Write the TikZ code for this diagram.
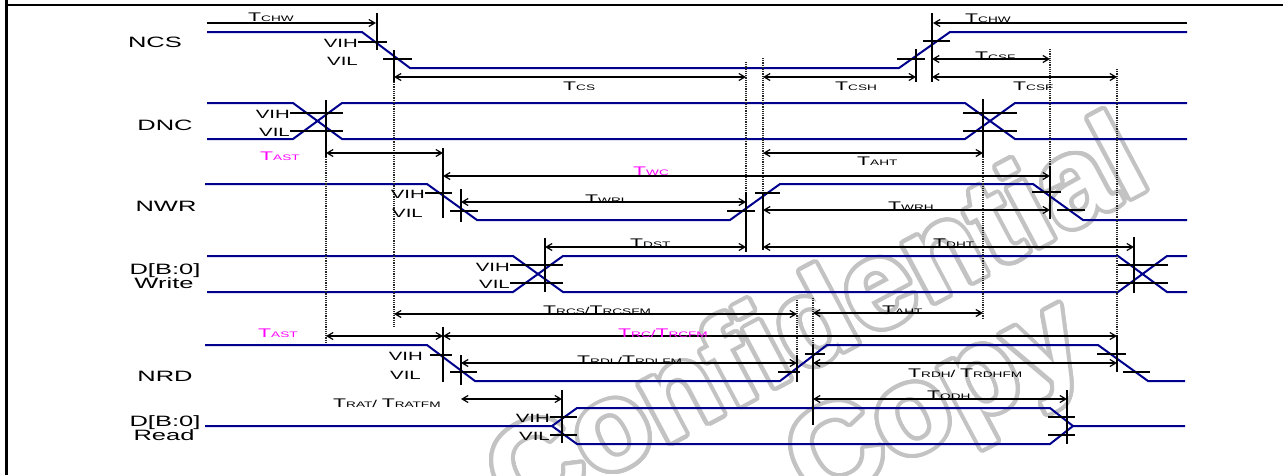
\documentclass[tikz,border=0pt]{standalone}
\usepackage{fontspec}
\usepackage{contour}
\usetikzlibrary{arrows.meta}
\newfontfamily\lblfont[FakeStretch=1.7]{Liberation Sans}
\newfontfamily\wmfont{Liberation Sans}
\definecolor{SigBlue}{RGB}{0,0,140}
\definecolor{Pink}{RGB}{255,0,255}
\definecolor{WmGray}{RGB}{195,195,195}
\contourlength{4pt}
\contournumber{32}
\newcommand{\tsub}[1]{{\fontsize{12.5}{12.5}\selectfont T}{\fontsize{8}{8}\selectfont #1}}
\tikzset{
  >={Straight Barb[length=6pt,width=7pt]},
  sig/.style={SigBlue,line width=2pt},
  vmark/.style={line width=1.8pt},
  vtick/.style={line width=1.2pt},
  guide/.style={densely dotted,line width=1.2pt,black!85},
  dim/.style={<->,line width=1.2pt},
  every node/.style={inner sep=0pt,font=\lblfont},
  sname/.style={anchor=base,font=\lblfont\fontsize{15}{15}\selectfont},
  lvl/.style={anchor=base east,font=\lblfont\fontsize{12}{12}\selectfont},
  tval/.style={anchor=base west},
  wmark/.style={text=white,font=\wmfont\bfseries\fontsize{125}{125}\selectfont},
}

\begin{document}
\begin{tikzpicture}[x=1pt,y=-1pt]
\useasboundingbox (0,0) rectangle (1283,475);
% водяной знак
\node[wmark,rotate=28] (wmconf) at (815,318) {\contour{WmGray}{Confidential}};
\node[wmark,rotate=28] (wmcopy) at (940,410) {\contour{WmGray}{Copy}};
% рамка
\draw[line width=3pt] (6,0) -- (6,475);
\draw[line width=2pt] (6,5) -- (1283,5);
% имена сигналов
\node[sname] (ncs) at (155,47) {NCS};
\node[sname] (dnc) at (165,130) {DNC};
\node[sname] (nwr) at (166,211) {NWR};
\node[sname] (dwa) at (165,274) {D[B:0]};
\node[sname] (dwb) at (164,288) {Write};
\node[sname] (nrd) at (165,381) {NRD};
\node[sname] (dra) at (165,426) {D[B:0]};
\node[sname] (drb) at (164,440) {Read};
% сигналы
\draw[sig] (207,32) -- (362,32) -- (410,68) -- (899,68) -- (950,32) -- (1187,32);
\draw[sig] (207,103) -- (293,103) -- (342,139) -- (965,139) -- (1015,103) -- (1187,103);
\draw[sig] (207,139) -- (293,139) -- (342,103) -- (965,103) -- (1015,139) -- (1187,139);
\draw[sig] (205,184) -- (427,184) -- (477,220) -- (730,220) -- (780,184) -- (1033,184) -- (1083,220) -- (1187,220);
\draw[sig] (207,256) -- (513,256) -- (563,292) -- (1118,292) -- (1167,256) -- (1187,256);
\draw[sig] (207,292) -- (513,292) -- (563,256) -- (1118,256) -- (1167,292) -- (1187,292);
\draw[sig] (205,345) -- (427,345) -- (475,381) -- (780,381) -- (827,345) -- (1098,345) -- (1148,381) -- (1185,381);
\draw[sig] (205,426) -- (552,426) -- (577,408) -- (1050,408) -- (1073,426) -- (1185,426);
\draw[sig] (552,426) -- (577,444) -- (1050,444) -- (1073,426);
% пунктирные вертикали
\foreach \x/\ya/\yb in {326/157/343,394/82/327,746/62/192,763/58/192,797/300/355,
    813/298/345,983/157/318,1050/49/166,1117/69/335}
  \draw[guide] (\x,\ya) -- (\x,\yb);
% метки уровней
\foreach \x/\ya/\yb in {377/13/50,394/50/82,916/49/82,932/13/82,326/100/157,983/99/157,
    443/148/218,461/189/222,746/192/252,763/192/250,1050/166/219,545/238/292,1134/237/293,
    443/327/382,461/355/385,797/355/382,813/345/425,1117/335/372,562/390/443,1067/390/444}
  \draw[vmark] (\x,\ya) -- (\x,\yb);
\foreach \xa/\xb/\y in {358/387/42,383/412/59,897/925/59,923/950/41,
    290/343/113,290/343/131,963/1017/113,963/1017/131,
    425/452/193,450/478/211,727/755/211,755/780/193,1032/1061/192,1057/1085/210,
    510/563/265,510/563/283,1118/1168/265,1118/1168/283,
    430/452/355,450/477/372,778/800/372,805/825/354,1097/1126/354,1123/1150/372,
    550/577/417,550/577/435,1048/1075/417,1048/1075/435}
  \draw[vtick] (\xa,\y) -- (\xb,\y);
\foreach \x/\y/\n in {358/47/a,290/118/b,425/198/c,510/271/d,423/360/e,550/422/f}
  \node[lvl] (vih\n) at (\x,\y) {VIH};
\foreach \x/\y/\n in {358/65/a,290/136/b,423/217/c,510/288/d,421/379/e,550/440/f}
  \node[lvl] (vil\n) at (\x,\y) {VIL};
% интервалы
\draw[->,line width=1.2pt] (207,23) -- (376,23);
\draw[->,line width=1.2pt] (1187,23) -- (933,23);
\foreach \xa/\xb/\y in {394/746/77,763/916/77,932/1050/59,932/1117/77,
    326/443/153,763/983/153,443/1050/176,461/746/202,763/1050/210,545/746/247,763/1134/247,
    394/797/314,813/983/313,326/443/336,443/1117/336,461/797/363,813/1117/363,
    461/562/399,813/1067/399}
  \draw[dim] (\xa,\y) -- (\xb,\y);
% подписи
\node[tval] (tchwa) at (248,21) {\tsub{CHW}};
\node[tval] (tchwb) at (965,22) {\tsub{CHW}};
\node[tval] (tcs) at (563,90) {\tsub{CS}};
\node[tval] (tcsh) at (835,90) {\tsub{CSH}};
\node[tval] (tcsfa) at (975,60) {\tsub{CSF}};
\node[tval] (tcsfb) at (1013,90) {\tsub{CSF}};
\node[tval,Pink] (tasta) at (260,160) {\tsub{AST}};
\node[tval] (tahta) at (857,165) {\tsub{AHT}};
\node[tval,Pink] (twc) at (633,175) {\tsub{WC}};
\node[tval] (twrl) at (585,203) {\tsub{WRL}};
\node[tval] (twrh) at (888,210) {\tsub{WRH}};
\node[tval] (tdst) at (630,247) {\tsub{DST}};
\node[tval] (tdht) at (933,247) {\tsub{DHT}};
\node[tval] (trcs) at (543,314) {\tsub{RCS}/\tsub{RCSFM}};
\node[tval] (tahtb) at (882,314) {\tsub{AHT}};
\node[tval,Pink] (tastb) at (258,337) {\tsub{AST}};
\node[tval,Pink] (trc) at (618,337) {\tsub{RC}/\tsub{RCFM}};
\node[tval] (trdl) at (577,364) {\tsub{RDL}/\tsub{RDLFM}};
\node[tval] (trdh) at (908,377) {\tsub{RDH}/ \tsub{RDHFM}};
\node[tval] (trat) at (333,407) {\tsub{RAT}/ \tsub{RATFM}};
\node[tval] (todh) at (927,399) {\tsub{ODH}};
\end{tikzpicture}
\end{document}
